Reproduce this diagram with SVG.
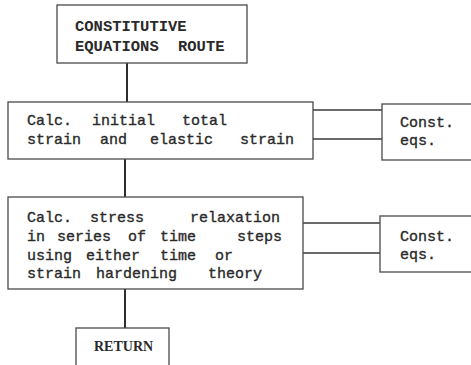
<svg xmlns="http://www.w3.org/2000/svg" width="471" height="365" viewBox="0 0 471 365">
  <style>
    .box { fill: #ffffff; stroke: #4a4a4a; stroke-width: 1.3; }
    .link { fill: none; stroke: #3a3a3a; stroke-width: 1.5; }
    .stem { fill: none; stroke: #2e2e2e; stroke-width: 2; }
    .t { font-family: "Liberation Mono", "Courier New", monospace; font-size: 15px; fill: #2a2a2a; stroke: #2a2a2a; stroke-width: 0.35; }
    .head { font-family: "Liberation Mono", "Courier New", monospace; font-size: 15.5px; font-weight: bold; fill: #2a2a2a; }
    .ret { font-family: "Liberation Serif", "Times New Roman", serif; font-size: 14px; font-weight: bold; fill: #2a2a2a; }
  </style>
  <rect width="471" height="365" fill="#ffffff"/>

  <g id="connectors">
    <line class="stem" x1="127" y1="63" x2="127" y2="102"/>
    <line class="stem" x1="125" y1="159" x2="125" y2="197"/>
    <line class="stem" x1="125" y1="289" x2="125" y2="328"/>
    <line class="link" x1="313" y1="110" x2="382" y2="110"/>
    <line class="link" x1="313" y1="139" x2="382" y2="139"/>
    <line class="link" x1="303" y1="223" x2="380" y2="223"/>
    <line class="link" x1="303" y1="253" x2="380" y2="253"/>
  </g>

  <g id="route">
    <rect class="box" x="57" y="5" width="190" height="58"/>
    <text class="head"><tspan x="75" y="31">CONSTITUTIVE</tspan><tspan x="75" y="51">EQUATIONS</tspan><tspan x="178" y="51">ROUTE</tspan></text>
  </g>

  <g id="initial-strain">
    <rect class="box" x="8" y="102" width="305" height="57"/>
    <text class="t"><tspan x="27" y="125">Calc.</tspan><tspan x="92" y="125">initial</tspan><tspan x="182" y="125">total</tspan></text>
    <text class="t"><tspan x="27" y="144">strain</tspan><tspan x="100" y="144">and</tspan><tspan x="150" y="144">elastic</tspan><tspan x="240" y="144">strain</tspan></text>
  </g>

  <g id="const-eqs-1">
    <rect class="box" x="382" y="104" width="100" height="56"/>
    <text class="t"><tspan x="400" y="127">Const.</tspan><tspan x="400" y="145">eqs.</tspan></text>
  </g>

  <g id="stress-relaxation">
    <rect class="box" x="8" y="197" width="295" height="92"/>
    <text class="t"><tspan x="27" y="222">Calc.</tspan><tspan x="90" y="222">stress</tspan><tspan x="190" y="222">relaxation</tspan></text>
    <text class="t"><tspan x="27" y="241">in</tspan><tspan x="57" y="241">series</tspan><tspan x="128" y="241">of</tspan><tspan x="160" y="241">time</tspan><tspan x="237" y="241">steps</tspan></text>
    <text class="t"><tspan x="27" y="259.5">using</tspan><tspan x="86" y="259.5">either</tspan><tspan x="160" y="259.5">time</tspan><tspan x="215" y="259.5">or</tspan></text>
    <text class="t"><tspan x="27" y="278">strain</tspan><tspan x="96" y="278">hardening</tspan><tspan x="208" y="278">theory</tspan></text>
  </g>

  <g id="const-eqs-2">
    <rect class="box" x="380" y="216" width="100" height="56"/>
    <text class="t"><tspan x="400" y="241">Const.</tspan><tspan x="400" y="259">eqs.</tspan></text>
  </g>

  <g id="return">
    <rect class="box" x="76" y="328" width="93" height="50"/>
    <text class="ret" x="94" y="351">RETURN</text>
  </g>
</svg>
